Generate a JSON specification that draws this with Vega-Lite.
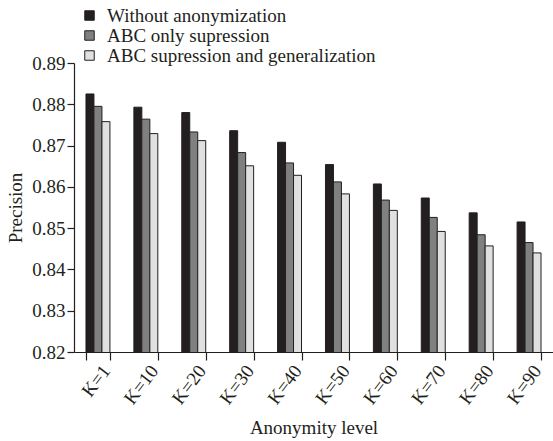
{
  "$schema": "https://vega.github.io/schema/vega-lite/v6.json",
  "autosize": "none",
  "padding": {"left": 74, "top": 63, "right": 0, "bottom": 89},
  "width": 479,
  "height": 289,
  "background": "white",
  "config": {
    "font": "Liberation Serif",
    "view": {"stroke": null},
    "axis": {"grid": false, "domainColor": "#231f20", "tickColor": "#231f20", "labelColor": "#231f20", "titleColor": "#231f20", "labelFont": "Liberation Serif", "titleFont": "Liberation Serif", "labelFontSize": 19, "titleFontSize": 19, "titleFontWeight": "normal"},
    "legend": {"labelFont": "Liberation Serif", "labelFontSize": 19, "labelColor": "#231f20", "labelLimit": 0}
  },
  "data": {
    "values": [
      {"k": "K=1", "series": "Without anonymization", "v": 0.8825},
      {"k": "K=1", "series": "ABC only supression", "v": 0.8795},
      {"k": "K=1", "series": "ABC supression and generalization", "v": 0.8758},
      {"k": "K=10", "series": "Without anonymization", "v": 0.8793},
      {"k": "K=10", "series": "ABC only supression", "v": 0.8764},
      {"k": "K=10", "series": "ABC supression and generalization", "v": 0.8729},
      {"k": "K=20", "series": "Without anonymization", "v": 0.878},
      {"k": "K=20", "series": "ABC only supression", "v": 0.8733},
      {"k": "K=20", "series": "ABC supression and generalization", "v": 0.8712},
      {"k": "K=30", "series": "Without anonymization", "v": 0.8736},
      {"k": "K=30", "series": "ABC only supression", "v": 0.8683},
      {"k": "K=30", "series": "ABC supression and generalization", "v": 0.8651},
      {"k": "K=40", "series": "Without anonymization", "v": 0.8708},
      {"k": "K=40", "series": "ABC only supression", "v": 0.8658},
      {"k": "K=40", "series": "ABC supression and generalization", "v": 0.8628},
      {"k": "K=50", "series": "Without anonymization", "v": 0.8654},
      {"k": "K=50", "series": "ABC only supression", "v": 0.8612},
      {"k": "K=50", "series": "ABC supression and generalization", "v": 0.8583},
      {"k": "K=60", "series": "Without anonymization", "v": 0.8607},
      {"k": "K=60", "series": "ABC only supression", "v": 0.8568},
      {"k": "K=60", "series": "ABC supression and generalization", "v": 0.8543},
      {"k": "K=70", "series": "Without anonymization", "v": 0.8573},
      {"k": "K=70", "series": "ABC only supression", "v": 0.8526},
      {"k": "K=70", "series": "ABC supression and generalization", "v": 0.8492},
      {"k": "K=80", "series": "Without anonymization", "v": 0.8537},
      {"k": "K=80", "series": "ABC only supression", "v": 0.8484},
      {"k": "K=80", "series": "ABC supression and generalization", "v": 0.8457},
      {"k": "K=90", "series": "Without anonymization", "v": 0.8515},
      {"k": "K=90", "series": "ABC only supression", "v": 0.8465},
      {"k": "K=90", "series": "ABC supression and generalization", "v": 0.844}
    ]
  },
  "mark": {"type": "bar", "stroke": "#231f20", "strokeWidth": 1, "clip": true},
  "encoding": {
    "x": {
      "field": "k", "type": "nominal", "sort": null,
      "scale": {"paddingInner": 0.5, "paddingOuter": 0.25},
      "axis": {"title": "Anonymity level", "titlePadding": 11, "labelAngle": -53, "labelPadding": 7, "labelOffset": 8, "tickSize": 8, "tickBand": "extent", "domainWidth": 1, "tickWidth": 1.2}
    },
    "xOffset": {"field": "series", "type": "nominal", "sort": null},
    "y": {
      "field": "v", "type": "quantitative",
      "scale": {"domain": [0.82, 0.89], "zero": false, "nice": false},
      "axis": {"title": "Precision", "values": [0.82, 0.83, 0.84, 0.85, 0.86, 0.87, 0.88, 0.89], "format": ".2f", "tickSize": 7, "labelPadding": 2, "titlePadding": 6, "domainWidth": 1.2, "tickWidth": 1.2}
    },
    "color": {
      "field": "series", "type": "nominal", "sort": null,
      "scale": {"domain": ["Without anonymization", "ABC only supression", "ABC supression and generalization"], "range": ["#231f20", "#808080", "#e0e0e0"]},
      "legend": {"title": null, "orient": "none", "legendX": 6, "legendY": -57, "symbolType": "square", "symbolSize": 90, "symbolStrokeColor": "#231f20", "symbolStrokeWidth": 1, "rowPadding": -0.5, "labelOffset": 8, "symbolOffset": 0}
    }
  }
}
